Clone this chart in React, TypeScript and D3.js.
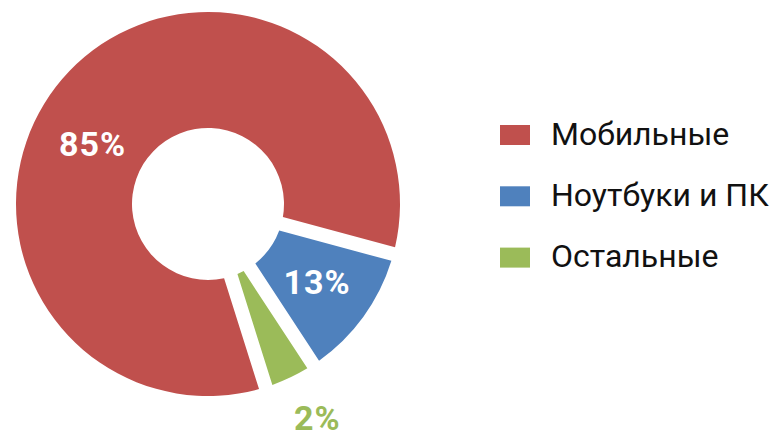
import React from "react";
import * as d3 from "d3";

const categories = ["Мобильные", "Ноутбуки и ПК", "Остальные"];
const sliceValues = [87.7, 10.0, 2.3];
const labels = ["85%", "13%", "2%"];
const colors = ["#C0504D", "#4F81BD", "#9BBB59"];

const W = 776;
const H = 435;

export default function App() {
  const cx = 208;
  const cy = 204;
  const r1 = 192;
  const r0 = 76;
  const deg = Math.PI / 180;
  const start = 162.5 * deg;

  const pie = d3
    .pie<number>()
    .sort(null)
    .startAngle(start)
    .endAngle(start + 2 * Math.PI)
    .padAngle(0.14);
  const arcs = pie(sliceValues);
  const arc = d3
    .arc<d3.PieArcDatum<number>>()
    .innerRadius(r0)
    .outerRadius(r1)
    .padRadius(100);

  const fs = 32;
  const lfs = 34;
  const polar = (a: number, r: number): [number, number] => [
    Math.sin(a) * r,
    -Math.cos(a) * r,
  ];

  const labelPos = arcs.map((a, i) => {
    const mid = (a.startAngle + a.endAngle) / 2;
    if (i === 0) return polar(297 * deg, 130);
    if (i === 1) return arc.centroid(a) as [number, number];
    return polar(mid - 1.5 * deg, 241);
  });

  return (
    <div style={{ position: "fixed", left: 0, top: 0 }}>
      <svg width={W} height={H} style={{ display: "block" }}>
        <rect width={W} height={H} fill="#fff" />
        <g transform={`translate(${cx},${cy})`}>
          {arcs.map((a, i) => (
            <path key={i} d={arc(a) || ""} fill={colors[i]} />
          ))}
          {arcs.map((a, i) => (
            <text
              key={"l" + i}
              x={labelPos[i][0] + 0.5}
              y={labelPos[i][1] + 32 * 0.355}
              textAnchor="middle"
              fontFamily="Roboto"
              fontWeight="bold"
              fontSize={lfs}
              letterSpacing={1}
              fill={i === 2 ? colors[2] : "#fff"}
            >
              {labels[i]}
            </text>
          ))}
        </g>
        <g>
          {categories.map((c, i) => (
            <g key={c} transform={`translate(500,${125 + i * 61.3})`}>
              <rect width={30} height={20} fill={colors[i]} />
              <text
                x={51}
                y={19.5}
                fontFamily="Roboto"
                fontSize={fs}
                fill="#111"
              >
                {c}
              </text>
            </g>
          ))}
        </g>
      </svg>
    </div>
  );
}
